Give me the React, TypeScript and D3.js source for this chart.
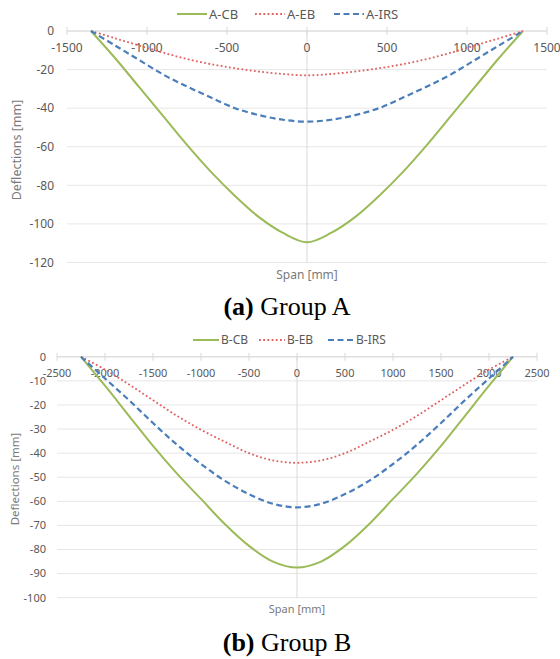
import * as d3 from 'd3';

// Group A (span +-1350 mm)
const spanA = [-1350, -1200, -1050, -900, -750, -600, -450, -300, -150, 0, 150, 300, 450, 600, 750, 900, 1050, 1200, 1350];
const aCB = [0, -14, -29, -44, -59, -73, -85.5, -96.5, -104.7, -109.5, -104.7, -96.5, -85.5, -73, -59, -44, -29, -14, 0];
const aEB = [0, -3.8, -7.5, -11.2, -14.5, -17.2, -19.3, -21, -22.3, -23, -22.3, -21, -19.3, -17.2, -14.5, -11.2, -7.5, -3.8, 0];
const aIRS = [0, -7.5, -15, -22.5, -28.8, -34.5, -40, -43.6, -46, -47, -46, -43.6, -40, -34.5, -28.8, -22.5, -15, -7.5, 0];

// Group B (span +-2250 mm)
const spanB = [-2250, -2000, -1750, -1500, -1250, -1000, -750, -500, -250, 0, 250, 500, 750, 1000, 1250, 1500, 1750, 2000, 2250];
const bCB = [0, -12, -24.5, -37, -48.5, -59, -69.5, -78.5, -85, -87.5, -85, -78.5, -69.5, -59, -48.5, -37, -24.5, -12, 0];
const bEB = [0, -5.3, -11.5, -18, -24.5, -30.3, -35.3, -40, -43, -44, -43, -40, -35.3, -30.3, -24.5, -18, -11.5, -5.3, 0];
const bIRS = [0, -9, -18, -27.5, -36.5, -44.5, -51.5, -57, -61, -62.5, -61, -57, -51.5, -44.5, -36.5, -27.5, -18, -9, 0];

const xTicksA = [-1500, -1000, -500, 0, 500, 1000, 1500];
const yTicksA = [0, -20, -40, -60, -80, -100, -120];
const xTicksB = [-2500, -2000, -1500, -1000, -500, 0, 500, 1000, 1500, 2000, 2500];
const yTicksB = [0, -10, -20, -30, -40, -50, -60, -70, -80, -90, -100];

const namesA = ['A-CB', 'A-EB', 'A-IRS'];
const namesB = ['B-CB', 'B-EB', 'B-IRS'];

const SANS = "'Noto Sans', 'Open Sans', sans-serif";
const SERIF = "'Liberation Serif', 'Times New Roman', serif";
const TXT = '#595959';

const styles = [
  { color: '#9bbb59', dash: '', width: 2 },
  { color: '#e06060', dash: '1.8,2.4', width: 1.8 },
  { color: '#4a7ebb', dash: '6,3.5', width: 2.2 },
];

function Panel({ cfg }: { cfg: any }) {
  const x = d3.scaleLinear().domain(cfg.xDomain).range([cfg.left, cfg.right]);
  const y = d3.scaleLinear().domain(cfg.yDomain).range([cfg.top, cfg.bottom]);
  const line = d3
    .line<[number, number]>()
    .x((d) => x(d[0]))
    .y((d) => y(d[1]))
    .curve(d3.curveCatmullRom.alpha(0.5));

  const fs = cfg.fs;
  return (
    <g>
      {/* gridlines */}
      {cfg.yTicks.map((t: number) => (
        <line key={'g' + t} x1={cfg.left} x2={cfg.right} y1={y(t)} y2={y(t)} stroke="#e6e6e6" strokeWidth={1} />
      ))}
      {/* y axis at x = 0 */}
      <line x1={x(0)} x2={x(0)} y1={y(0)} y2={cfg.bottom} stroke="#d9d9d9" strokeWidth={1} />
      {/* x axis at y = 0 */}
      <line x1={cfg.left} x2={cfg.right} y1={y(0)} y2={y(0)} stroke="#d9d9d9" strokeWidth={1} />
      {cfg.xTicks.map((t: number) => (
        <line key={'t' + t} x1={x(t)} x2={x(t)} y1={y(0) - 4} y2={y(0) + 4} stroke="#d9d9d9" strokeWidth={1} />
      ))}
      {cfg.yTicks.map((t: number) => (
        <text key={'yl' + t} x={cfg.yLabelX} y={y(t)} dy="0.35em" textAnchor="end" fontSize={fs} fill={TXT} fontFamily={SANS}>
          {t}
        </text>
      ))}
      {cfg.xTicks.map((t: number) => (
        <text key={'xl' + t} x={x(t)} y={y(0) + 16.5} dy="0.35em" textAnchor="middle" fontSize={fs} fill={TXT} fontFamily={SANS}>
          {t}
        </text>
      ))}
      {/* series */}
      {cfg.series.map((s: number[], i: number) => (
        <path
          key={'s' + i}
          d={line(cfg.span.map((v: number, j: number) => [v, s[j]] as [number, number])) || ''}
          fill="none"
          stroke={styles[i].color}
          strokeWidth={styles[i].width}
          strokeDasharray={styles[i].dash || undefined}
        />
      ))}
      {/* legend */}
      {cfg.names.map((n: string, i: number) => (
        <g key={'lg' + n}>
          <line
            x1={cfg.legendX[i]}
            x2={cfg.legendX[i] + cfg.sample}
            y1={cfg.legendY}
            y2={cfg.legendY}
            stroke={styles[i].color}
            strokeWidth={styles[i].width}
            strokeDasharray={styles[i].dash || undefined}
          />
          <text x={cfg.legendX[i] + cfg.sample + 2} y={cfg.legendY} dy="0.35em" fontSize={cfg.legendFs} fill={TXT} fontFamily={SANS}>
            {n}
          </text>
        </g>
      ))}
      {/* axis titles */}
      <text x={cfg.spanX} y={cfg.spanY} dy="0.35em" textAnchor="middle" fontSize={fs} fill="#7a7a7a" fontFamily={SANS}>
        Span [mm]
      </text>
      <text
        transform={`translate(${cfg.deflX},${cfg.deflY}) rotate(-90)`}
        dy="0.35em"
        textAnchor="middle"
        fontSize={cfg.titleFs}
        fill="#7a7a7a"
        fontFamily={SANS}
      >
        Deflections [mm]
      </text>
      {/* caption */}
      <text x={287} y={cfg.capY} textAnchor="middle" fontSize={26} fill="#000" fontFamily={SERIF}>
        <tspan fontWeight="bold">{cfg.capTag}</tspan>
        <tspan>{' ' + cfg.capText}</tspan>
      </text>
    </g>
  );
}

const panelA = {
  span: spanA,
  series: [aCB, aEB, aIRS],
  names: namesA,
  xDomain: [-1500, 1500],
  yDomain: [0, -120],
  xTicks: xTicksA,
  yTicks: yTicksA,
  left: 67,
  right: 547,
  top: 31,
  bottom: 262.5,
  yLabelX: 54,
  fs: 12,
  titleFs: 12.5,
  legendFs: 13,
  legendX: [177, 255, 334],
  legendY: 14,
  sample: 30,
  spanX: 307,
  spanY: 275,
  deflX: 17,
  deflY: 150,
  capY: 315,
  capTag: '(a)',
  capText: 'Group A',
};

const panelB = {
  span: spanB,
  series: [bCB, bEB, bIRS],
  names: namesB,
  xDomain: [-2500, 2500],
  yDomain: [0, -100],
  xTicks: xTicksB,
  yTicks: yTicksB,
  left: 57,
  right: 537,
  top: 356.8,
  bottom: 597.7,
  yLabelX: 46,
  fs: 11,
  titleFs: 11.5,
  legendFs: 12,
  legendX: [193, 259, 328],
  legendY: 340,
  sample: 26,
  spanX: 297,
  spanY: 609,
  deflX: 15,
  deflY: 479,
  capY: 651,
  capTag: '(b)',
  capText: 'Group B',
};

export default function App() {
  return (
    <svg
      width={560}
      height={659}
      style={{ position: 'absolute', left: 0, top: 0, background: '#fff' }}
    >
      <rect width={560} height={659} fill="#fff" />
      <Panel cfg={panelA} />
      <Panel cfg={panelB} />
    </svg>
  );
}
